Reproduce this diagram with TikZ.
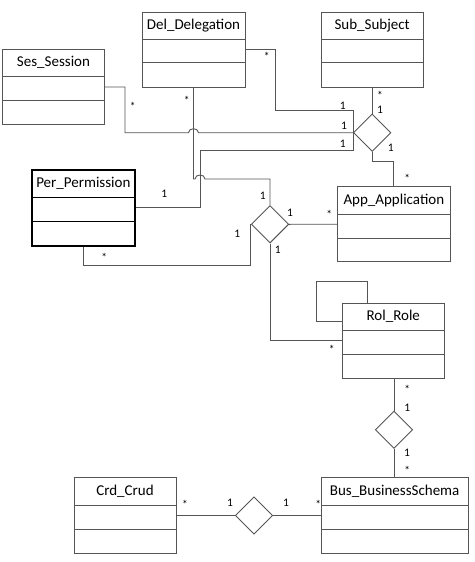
\documentclass[tikz,border=0pt]{standalone}
\usepackage{fontspec}
\setmainfont{Carlito}
\usetikzlibrary{shapes.geometric,fit,calc}
\definecolor{lc}{RGB}{85,85,85}
\tikzset{
  cls/.style={draw=lc, line width=0.9pt, inner sep=0pt},
  clsb/.style={draw=black, line width=1.7pt, inner sep=0pt},
  sepn/.style={draw=lc, line width=0.9pt},
  sepb/.style={draw=black, line width=1.5pt},
  ttl/.style={inner sep=0pt, text height=0.85em, text depth=0.1em, font=\fontsize{15}{18}\selectfont},
  dia/.style={draw=lc, line width=0.9pt, diamond, inner sep=0pt, minimum width=37.5pt, minimum height=37.5pt},
  conn/.style={draw=lc, line width=0.9pt},
  lbl/.style={inner sep=0pt, font=\fontsize{11.5}{13}\selectfont},
  lst/.style={inner sep=0pt, yshift=-1.5pt, font=\fontsize{11.5}{13}\selectfont}
}
\newcommand\umlcls[9]{%
  \node[#9, fit={(#2,#3) (#4,#5)}] (#1) {};
  \node[ttl] (#1-t) at ({(#2+#4)/2},{(#3+#6)/2}) {#8};
}
\begin{document}
\begin{tikzpicture}[x=1pt,y=-1pt]
\useasboundingbox (0,0) rectangle (474,562);
% classes
\umlcls{del}{142}{12}{245}{87}{39}{62.7}{Del\_Delegation}{cls}
\draw[sepn] (142,39) -- (245,39) (142,62.7) -- (245,62.7);
\umlcls{sub}{321}{12}{423.3}{87}{39}{62.7}{Sub\_Subject}{cls}
\draw[sepn] (321,39) -- (423.3,39) (321,62.7) -- (423.3,62.7);
\umlcls{ses}{2.7}{49.3}{104.3}{124.7}{76.3}{100}{Ses\_Session}{cls}
\draw[sepn] (2.7,76.3) -- (104.3,76.3) (2.7,100) -- (104.3,100);
\umlcls{per}{31.7}{170}{135}{245.7}{197.7}{221.7}{Per\_Permission}{clsb}
\draw[sepb] (31.7,197.7) -- (135,197.7) (31.7,221.7) -- (135,221.7);
\umlcls{app}{337.7}{186.7}{450}{261.7}{214}{238.3}{App\_Application}{cls}
\draw[sepn] (337.7,214) -- (450,214) (337.7,238.3) -- (450,238.3);
\umlcls{rol}{342.3}{303}{444.3}{378.3}{330.3}{354.7}{Rol\_Role}{cls}
\draw[sepn] (342.3,330.3) -- (444.3,330.3) (342.3,354.7) -- (444.3,354.7);
\umlcls{crd}{74}{477.7}{176}{553.3}{505.7}{529.7}{Crd\_Crud}{cls}
\draw[sepn] (74,505.7) -- (176,505.7) (74,529.7) -- (176,529.7);
\umlcls{bus}{321}{477.7}{468.3}{553.3}{505.7}{529.7}{Bus\_BusinessSchema}{cls}
\draw[sepn] (321,505.7) -- (468.3,505.7) (321,529.7) -- (468.3,529.7);
% diamonds
\node[dia] (sd) at (372.15,132.7) {};
\node[dia] (md) at (270,224.3) {};
\node[dia] (rd) at (394,429.7) {};
\node[dia] (bd) at (254,515.5) {};
% helper coordinates
\coordinate (k1) at (275,110.7);
\coordinate (k2) at (125,132.7);
\coordinate (k3) at (200,150.3);
% connectors
\draw[conn] (del.east) -| (k1) -| (sd.west);
\draw[conn] (ses.east) -| (k2) -- (188.5,132.7) .. controls (188.5,127.4) and (198.5,127.4) .. (198.5,132.7) -- (sd.west);
\draw[conn] (per.east) -| (k3) -| (sd.west);
\draw[conn] (sub.south) -- (sd.north);
\draw[conn] (sd.south) -- ++(0,10) -| (app.north);
\draw[conn] (del.south) -- (193.5,179) -- (195,179) .. controls (195,173.7) and (205,173.7) .. (205,179) -| (md.north);
\draw[conn] (md.east) -- (app.west);
\draw[conn] (per.south) -- ++(0,19.3) -| (md.west);
\draw[conn] (md.south) |- (rol.west);
\draw[conn] ($(rol.north west)+(25.4,0)$) |- (316.3,281.7) |- ($(rol.north west)+(0,18.7)$);
\draw[conn] (rd.north |- rol.south) -- (rd.north);
\draw[conn] (rd.south) -- (rd.south |- bus.north);
\draw[conn] (crd.east) -- (bd.west);
\draw[conn] (bd.east) -- (bus.west);
% labels
\node[lst] (l1) at (266.7,55) {*};
\node[lbl] (l2) at (342.7,106) {1};
\node[lst] (l3) at (132.7,105) {*};
\node[lbl] (l4) at (344,126) {1};
\node[lbl] (l5) at (342.7,143.3) {1};
\node[lst] (l6) at (186.7,99) {*};
\node[lbl] (l7) at (164.3,193.3) {1};
\node[lst] (l8) at (380,94.3) {*};
\node[lbl] (l9) at (380,109.3) {1};
\node[lbl] (l10) at (390.7,147.7) {1};
\node[lst] (l11) at (407.3,176.7) {*};
\node[lbl] (l12) at (262.7,196) {1};
\node[lbl] (l13) at (290,212.3) {1};
\node[lst] (l14) at (329.3,213.3) {*};
\node[lbl] (l15) at (237.3,233.3) {1};
\node[lst] (l16) at (104.3,256) {*};
\node[lbl] (l17) at (277.7,250) {1};
\node[lst] (l18) at (331.7,348.3) {*};
\node[lst] (l19) at (407.3,388.3) {*};
\node[lbl] (l20) at (407.3,407.3) {1};
\node[lbl] (l21) at (407,452.3) {1};
\node[lst] (l22) at (407.3,469) {*};
\node[lst] (l23) at (185,503) {*};
\node[lbl] (l24) at (230,502.7) {1};
\node[lbl] (l25) at (286,502.7) {1};
\node[lst] (l26) at (318.3,503) {*};
\end{tikzpicture}
\end{document}
